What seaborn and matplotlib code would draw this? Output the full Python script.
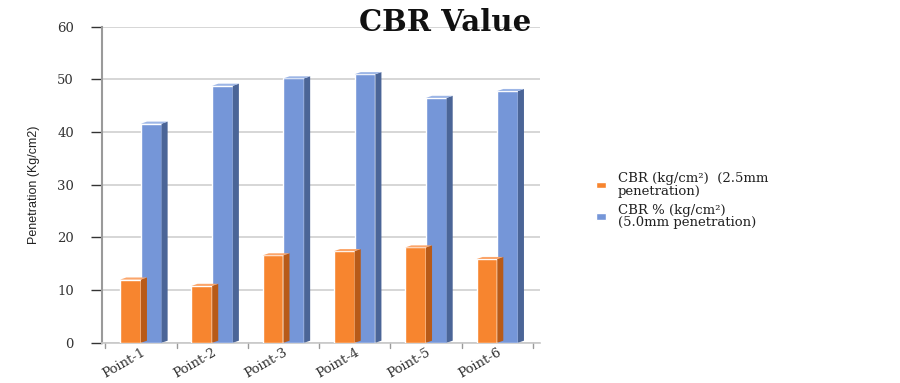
import matplotlib
matplotlib.use("Agg")
import matplotlib.pyplot as plt
from matplotlib.patches import Polygon
import seaborn as sns
import pandas as pd

categories = ["Point-1", "Point-2", "Point-3", "Point-4", "Point-5", "Point-6"]
cbr_25 = [12.0, 10.8, 16.6, 17.4, 18.1, 15.9]
cbr_50 = [41.6, 48.8, 50.2, 51.0, 46.5, 47.8]
series_names = ["CBR (kg/cm\u00b2)  (2.5mm\npenetration)",
                "CBR % (kg/cm\u00b2)\n(5.0mm penetration)"]

df = pd.DataFrame({
    "Point": categories * 2,
    "Value": cbr_25 + cbr_50,
    "Series": [series_names[0]] * len(categories) + [series_names[1]] * len(categories),
})

sns.set_theme(style="white")
plt.rcParams["font.family"] = ["DejaVu Serif"]

front = ["#F7852F", "#7596D8"]
side = ["#B85A18", "#4B6597"]
top = ["#FBA56A", "#9DB6E6"]

fig = plt.figure(figsize=(9, 3.83), dpi=100)
ax = fig.add_axes([0.113, 0.105, 0.487, 0.825])

sns.barplot(data=df, x="Point", y="Value", hue="Series", palette=front,
            width=0.58, saturation=1, ax=ax, legend=True, zorder=3)

# depth faces built from each drawn bar
depth_x, depth_y = 0.085, 0.4
for ci, cont in enumerate(ax.containers):
    for rect in cont.patches:
        x0, w, h = rect.get_x(), rect.get_width(), rect.get_height()
        ax.add_patch(Polygon([(x0 + w, 0), (x0 + w + depth_x, depth_y),
                              (x0 + w + depth_x, h + depth_y), (x0 + w, h)],
                             closed=True, color=side[ci], zorder=3, lw=0))
        ax.add_patch(Polygon([(x0, h), (x0 + depth_x, h + depth_y),
                              (x0 + w + depth_x, h + depth_y), (x0 + w, h)],
                             closed=True, color=top[ci], zorder=3, lw=0))

ax.set_ylim(0, 60)
ax.set_xlim(-0.55, 5.6)
ax.set_yticks(range(0, 61, 10))
ax.yaxis.grid(True, color="#d0d0d0", lw=1.2, zorder=0)
ax.tick_params(axis="y", labelsize=9.5, colors="#333333", length=8, width=1,
               left=True, pad=12)
ax.tick_params(axis="x", labelsize=9.5, colors="#333333", length=0, pad=2)
for lab in ax.get_xticklabels():
    lab.set_rotation(30)
    lab.set_ha("right")
    lab.set_rotation_mode("anchor")

for s in ["top", "right"]:
    ax.spines[s].set_visible(False)
ax.spines["left"].set_color("#9a9a9a")
ax.spines["left"].set_linewidth(1.5)
ax.spines["bottom"].set_color("#c8c8c8")
ax.spines["bottom"].set_linewidth(1.2)

# separators under the floor between groups
for b in [-0.5, 0.5, 1.5, 2.5, 3.5, 4.5, 5.5]:
    ax.plot([b, b], [0, -0.9], color="#9a9a9a", lw=1, clip_on=False)

ax.set_xlabel("")
ax.set_ylabel("Penetration (Kg/cm2)", fontsize=9,
              family=["Liberation Sans Narrow", "Liberation Sans"],
              color="#222222", labelpad=12)

fig.text(0.495, 0.94, "CBR Value", fontsize=21, fontweight="bold",
         ha="center", va="center", color="#111111")

handles, labels = ax.get_legend_handles_labels()
leg = ax.legend(handles, labels, loc="center left", bbox_to_anchor=(1.1, 0.45),
                frameon=False, fontsize=9.5, handlelength=0.8, handleheight=0.4,
                labelspacing=0.45, handletextpad=0.9)
for t in leg.get_texts():
    t.set_linespacing(0.95)
    t.set_color("#222222")

fig.savefig("out.png", dpi=100)
